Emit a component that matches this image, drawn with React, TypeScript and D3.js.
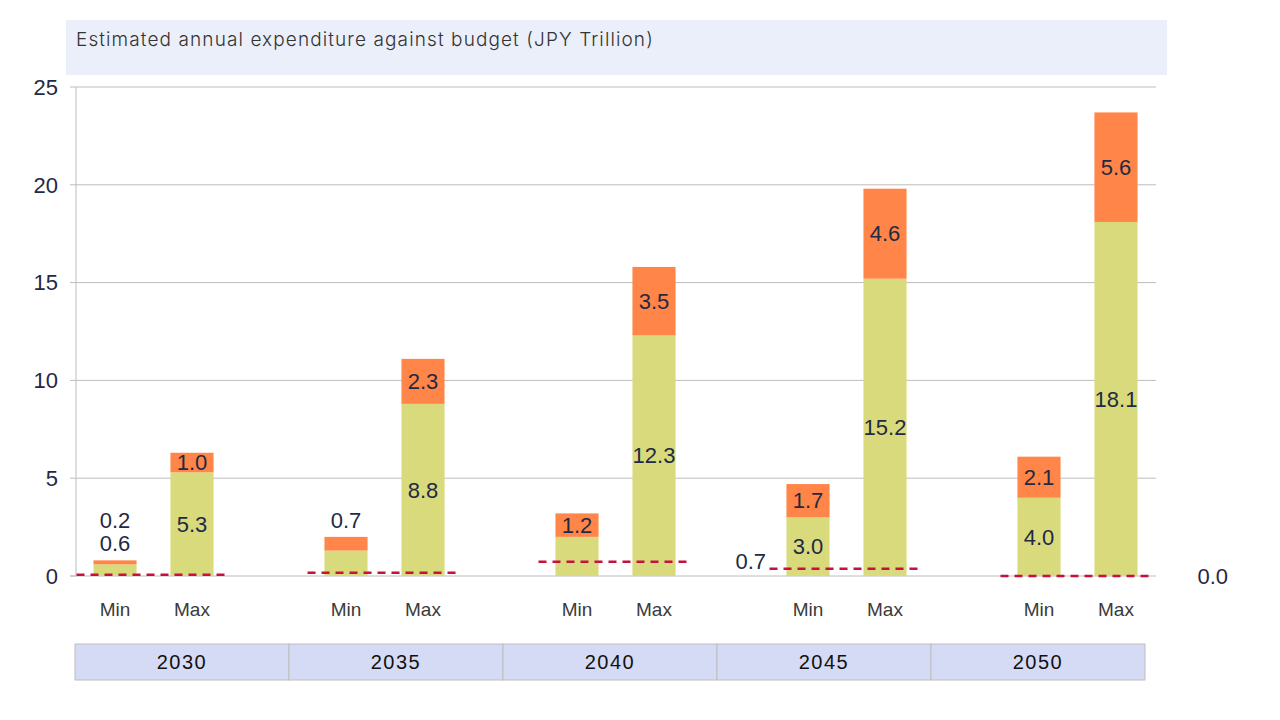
import React from 'react';
import * as d3 from 'd3';

const years = ['2030', '2035', '2040', '2045', '2050'];
const scenarios = ['Min', 'Max'];
const minBase = [0.6, 1.3, 2.0, 3.0, 4.0];
const minExtra = [0.2, 0.7, 1.2, 1.7, 2.1];
const maxBase = [5.3, 8.8, 12.3, 15.2, 18.1];
const maxExtra = [1.0, 2.3, 3.5, 4.6, 5.6];
const budget = [0.07, 0.17, 0.73, 0.37, 0.0];
const yTicks = [0, 5, 10, 15, 20, 25];
// label placement per bar: 'in' inside segment, 'above' stacked above bar, 'none' hidden
const minBaseLabelMode = ['above', 'none', 'none', 'in', 'in'];
const minExtraLabelMode = ['above', 'above', 'in', 'in', 'in'];
const budgetLabelShown = [false, false, true, false, true];
const title = 'Estimated annual expenditure against budget (JPY Trillion)';

const GREEN = '#d9da7c';
const ORANGE = '#ff8548';
const RED = '#c8103e';
const GRID = '#bdbdbd';
const TEXT = '#1f2a44';
const FONT = '"Liberation Sans", Arial, sans-serif';
const LFS = 22;

export default function App() {
  const W = 1280, H = 720;
  const y = d3.scaleLinear().domain([0, 25]).range([576, 87]);
  const slots: string[] = [];
  years.forEach((yr, i) => {
    scenarios.forEach((s) => slots.push(`${yr}-${s}`));
    if (i < years.length - 1) slots.push(`gap-${yr}`);
  });
  const x = d3.scaleBand<string>().domain(slots).range([76.5, 1154.5]).paddingInner(0.44).paddingOuter(0.22);
  const step = x.step();
  const xYear = d3.scaleBand<string>().domain(years).range([75, 1145]);

  const bars: any[] = [];
  years.forEach((yr, i) => {
    bars.push({ key: `${yr}-Min`, base: minBase[i], extra: minExtra[i], bMode: minBaseLabelMode[i], eMode: minExtraLabelMode[i] });
    bars.push({ key: `${yr}-Max`, base: maxBase[i], extra: maxExtra[i], bMode: 'in', eMode: 'in' });
  });

  return (
    <svg width={W} height={H} style={{ position: 'absolute', left: 0, top: 0 }}>
      <rect x={0} y={0} width={W} height={H} fill="#fff" />
      <rect x={66} y={20} width={1101} height={55} fill="#ebeffa" />
      <text x={76} y={46} fontFamily='Inter, "Open Sans", sans-serif' fontWeight={300} fontSize={19} letterSpacing={1.1} fill="#333">{title}</text>

      {yTicks.map((t) => (
        <g key={t}>
          {t > 0 && <line x1={76} x2={1156} y1={y(t)} y2={y(t)} stroke={GRID} strokeWidth={1} />}
          <line x1={70} x2={76} y1={y(t)} y2={y(t)} stroke={GRID} strokeWidth={1} />
          <text x={58} y={y(t)} dy="0.35em" textAnchor="end" fontFamily={FONT} fontSize={LFS} fill={TEXT}>{t}</text>
        </g>
      ))}
      <line x1={76} x2={76} y1={87} y2={576} stroke={GRID} strokeWidth={1} />
      <line x1={70} x2={1156} y1={576} y2={576} stroke={GRID} strokeWidth={1} />

      {bars.map((b) => {
        const bx = x(b.key)!;
        const bw = x.bandwidth();
        const y0 = y(0), y1 = y(b.base), y2 = y(b.base + b.extra);
        return (
          <g key={b.key}>
            <rect x={bx} y={y1} width={bw} height={y0 - y1} fill={GREEN} />
            <rect x={bx} y={y2} width={bw} height={y1 - y2} fill={ORANGE} />
          </g>
        );
      })}

      {years.map((yr, i) => {
        const x0 = x(`${yr}-Min`)! - (step - x.bandwidth()) / 2;
        const x1 = x(`${yr}-Max`)! + x.bandwidth() + (step - x.bandwidth()) / 2 - 5;
        return (
          <g key={yr}>
            <line x1={x0} x2={x1} y1={y(budget[i])} y2={y(budget[i])} stroke={RED} strokeWidth={2.5} strokeDasharray="8,6" />
            {budgetLabelShown[i] && (
              <text x={x1 + 48} y={y(budget[i])} dy="0.35em" fontFamily={FONT} fontSize={LFS} fill={TEXT}>{budget[i].toFixed(1)}</text>
            )}
          </g>
        );
      })}

      {bars.map((b) => {
        const bx = x(b.key)!;
        const cx = bx + x.bandwidth() / 2;
        const y0 = y(0), y1 = y(b.base), y2 = y(b.base + b.extra);
        const out: any[] = [];
        let aboveOffset = 17;
        if (b.bMode === 'in') out.push(<text key="b" x={cx} y={(y0 + y1) / 2} dy="0.35em" textAnchor="middle" fontFamily={FONT} fontSize={LFS} fill={TEXT}>{b.base.toFixed(1)}</text>);
        if (b.bMode === 'above') { out.push(<text key="b" x={cx} y={y2 - aboveOffset} dy="0.35em" textAnchor="middle" fontFamily={FONT} fontSize={LFS} fill={TEXT}>{b.base.toFixed(1)}</text>); aboveOffset += 23; }
        if (b.eMode === 'in') out.push(<text key="e" x={cx} y={(y1 + y2) / 2} dy="0.35em" textAnchor="middle" fontFamily={FONT} fontSize={LFS} fill={TEXT}>{b.extra.toFixed(1)}</text>);
        if (b.eMode === 'above') out.push(<text key="e" x={cx} y={y2 - aboveOffset} dy="0.35em" textAnchor="middle" fontFamily={FONT} fontSize={LFS} fill={TEXT}>{b.extra.toFixed(1)}</text>);
        return <g key={b.key + 'l'}>{out}</g>;
      })}

      {bars.map((b) => {
        const cx = x(b.key)! + x.bandwidth() / 2;
        return <text key={b.key + 's'} x={cx} y={609} dy="0.35em" textAnchor="middle" fontFamily={FONT} fontSize={19} fill="#3a3a3a">{b.key.split('-')[1]}</text>;
      })}

      {years.map((yr) => (
        <g key={yr + 'box'}>
          <rect x={xYear(yr)!} y={644} width={xYear.bandwidth()} height={36} fill="#d6dbf5" stroke={GRID} strokeWidth={1} />
          <text x={xYear(yr)! + xYear.bandwidth() / 2} y={662} dy="0.35em" textAnchor="middle" fontFamily={FONT} fontSize={20} letterSpacing={1.5} fill="#111">{yr}</text>
        </g>
      ))}
    </svg>
  );
}
